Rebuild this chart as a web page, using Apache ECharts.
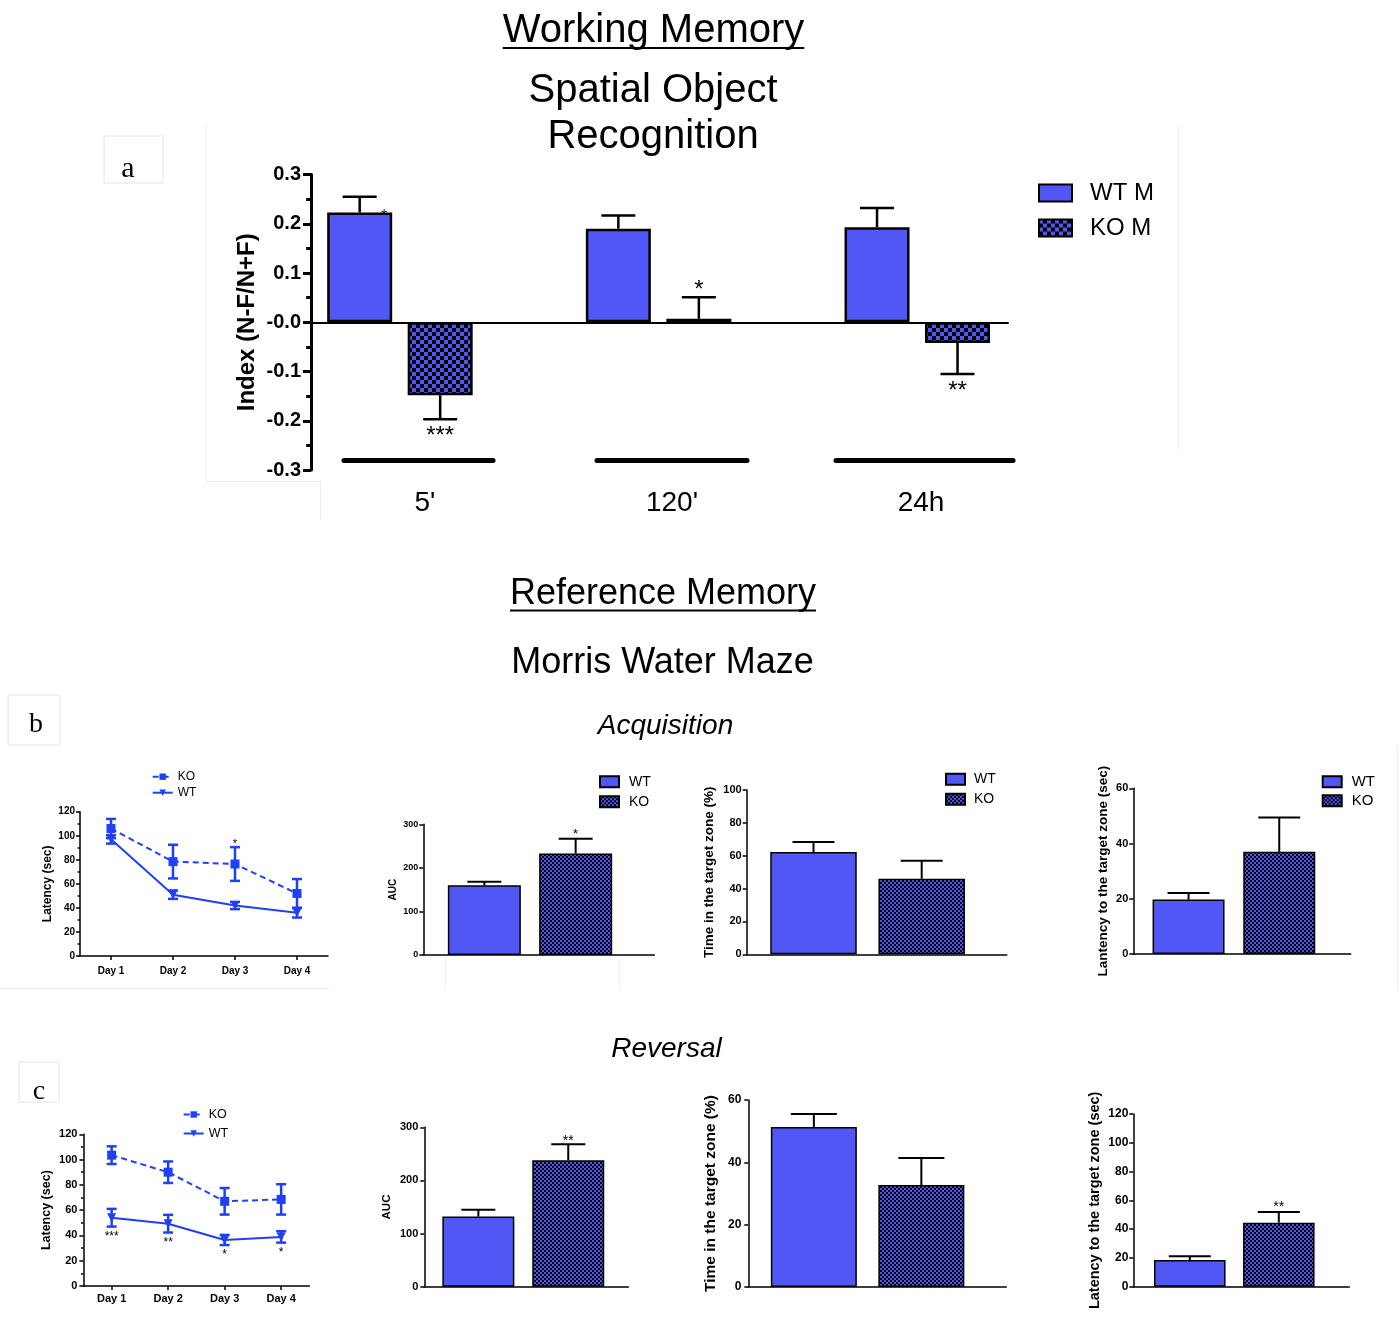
<!DOCTYPE html>
<html>
<head>
<meta charset="utf-8">
<title>Working and Reference Memory</title>
<script src="https://cdn.jsdelivr.net/npm/echarts@6.0.0/dist/echarts.min.js"></script>
<style>
html, body { margin: 0; padding: 0; background: #fff; }
#chart { width: 1399px; height: 1322px; }
</style>
</head>
<body>
<div id="chart"></div>
<script>
// ---------- Working memory: spatial object recognition ----------
const wmCategories = ["5'", "120'", "24h"];
const wmYTickLabels = ['-0.3', '-0.2', '-0.1', '-0.0', '0.1', '0.2', '0.3'];
const wmWT = [0.223, 0.19, 0.193];
const wmWTErr = [0.032, 0.027, 0.039];
const wmKO = [-0.148, 0.007, -0.042];
const wmKOErr = [0.049, 0.044, 0.063];
const wmKOStars = ['***', '*', '**'];

// ---------- Reference memory: Morris water maze ----------
const groups = ['WT', 'KO'];
const days = ['Day 1', 'Day 2', 'Day 3', 'Day 4'];

// acquisition
const acqLatencyKO = [106, 78.5, 76.5, 52];
const acqLatencyKOErr = [8, 14, 14, 12];
const acqLatencyWT = [97, 51, 42, 36];
const acqLatencyWTErr = [3.5, 3.5, 3, 4];
const acqLatencyStars = ['', '', '*', ''];
const acqAUC = [160, 233];
const acqAUCErr = [8, 34];
const acqAUCStars = ['', '*'];
const acqTime = [62.3, 46];
const acqTimeErr = [6, 11];
const acqTarget = [19.7, 37];
const acqTargetErr = [2.4, 12.4];

// reversal
const revLatencyKO = [103.5, 90, 67, 68.5];
const revLatencyKOErr = [7, 8.5, 10.5, 12];
const revLatencyWT = [54, 49.3, 36.4, 38.8];
const revLatencyWTErr = [7, 7, 4, 4.5];
const revLatencyStars = ['***', '**', '*', '*'];
const revAUC = [132, 238];
const revAUCErr = [13, 30];
const revAUCStars = ['', '**'];
const revTime = [51.3, 32.7];
const revTimeErr = [4.2, 8.7];
const revTarget = [18.5, 44.5];
const revTargetErr = [2.6, 7.4];
const revTargetStars = ['', '**'];

// ---------- styles ----------
const FONT = "'Liberation Sans', Arial, sans-serif";
const BAR_BLUE = '#5157f4';
const LINE_BLUE = '#1f40f5';

function checker(cell, fg, bg) {
  const c = document.createElement('canvas');
  c.width = c.height = cell * 2;
  const ctx = c.getContext('2d');
  ctx.fillStyle = bg;
  ctx.fillRect(0, 0, cell * 2, cell * 2);
  ctx.fillStyle = fg;
  ctx.fillRect(0, 0, cell, cell);
  ctx.fillRect(cell, cell, cell, cell);
  return c;
}
const koCoarse = { image: checker(4, BAR_BLUE, '#000'), repeat: 'repeat' };
const koFine = { image: checker(2, BAR_BLUE, '#000'), repeat: 'repeat' };

const grid = [], xAxis = [], yAxis = [], series = [], legend = [], graphic = [];

function addGrid(left, top, width, height) {
  grid.push({ left, top, width, height, containLabel: false, outerBoundsMode: 'none' });
  return grid.length - 1;
}

function valueAxis(gi, o) {
  return {
    type: 'value', gridIndex: gi, min: o.min, max: o.max, interval: o.interval,
    splitLine: { show: false },
    axisLine: { show: true, onZero: false, lineStyle: { color: '#000', width: o.lw } },
    axisTick: { show: true, length: o.tick, lineStyle: { color: '#000', width: o.lw } },
    minorTick: o.minor
      ? { show: true, splitNumber: 2, length: o.tick * 0.6, lineStyle: { color: '#000', width: o.lw } }
      : { show: false },
    axisLabel: {
      color: '#000', fontWeight: 'bold', fontSize: o.fs, fontFamily: FONT,
      margin: o.margin, formatter: o.formatter
    },
    name: o.name, nameLocation: 'middle', nameGap: o.nameGap, nameRotate: 90,
    nameTextStyle: { color: '#000', fontWeight: 'bold', fontSize: o.nameFs, fontFamily: FONT }
  };
}

// y of a text anchored so that an asterisk glyph is centred at `center`
function starY(center, fs) { return center + 0.227 * fs; }

// black T-shaped error bars on top of bars (or below, for negative bars)
function barErrors(xi, yi, values, errs, stars, o) {
  return {
    type: 'custom', xAxisIndex: xi, yAxisIndex: yi, silent: true, z: 5,
    data: values.map((v, i) => [i, v, errs[i]]),
    renderItem(params, api) {
      const i = api.value(0), v = api.value(1), e = api.value(2);
      const dir = v < 0 ? -1 : 1;
      const base = api.coord([i, v]);
      const tip = api.coord([i, v + dir * e]);
      const x = base[0] + (o.offset || 0);
      const st = { stroke: '#000', lineWidth: o.lw };
      const children = [
        { type: 'line', shape: { x1: x, y1: base[1], x2: x, y2: tip[1] }, style: st },
        { type: 'line', shape: { x1: x - o.cap / 2, y1: tip[1], x2: x + o.cap / 2, y2: tip[1] }, style: st }
      ];
      const s = stars ? stars[params.dataIndex] : '';
      if (s) {
        const c = tip[1] - dir * o.starGap;
        children.push({
          type: 'text',
          style: {
            text: s, x: x, y: starY(c, o.starFs), fill: '#000',
            font: o.starFs + 'px ' + FONT, align: 'center', verticalAlign: 'middle',
            textAlign: 'center', textVerticalAlign: 'middle'
          }
        });
      }
      return { type: 'group', children };
    }
  };
}

// blue two-sided error bars for the learning curves
function lineErrors(gi, values, errs, stars, side, o) {
  return {
    type: 'custom', xAxisIndex: gi, yAxisIndex: gi, silent: true, z: 3,
    data: values.map((v, i) => [i, v, errs[i]]),
    renderItem(params, api) {
      const i = api.value(0), v = api.value(1), e = api.value(2);
      const hi = api.coord([i, v + e]);
      const lo = api.coord([i, v - e]);
      const x = hi[0];
      const st = { stroke: LINE_BLUE, lineWidth: o.lw };
      const children = [
        { type: 'line', shape: { x1: x, y1: hi[1], x2: x, y2: lo[1] }, style: st },
        { type: 'line', shape: { x1: x - o.cap / 2, y1: hi[1], x2: x + o.cap / 2, y2: hi[1] }, style: st },
        { type: 'line', shape: { x1: x - o.cap / 2, y1: lo[1], x2: x + o.cap / 2, y2: lo[1] }, style: st }
      ];
      const s = stars ? stars[params.dataIndex] : '';
      if (s) {
        const c = side === 'above' ? hi[1] - o.starGap : lo[1] + o.starGap;
        children.push({
          type: 'text',
          style: {
            text: s, x: x, y: starY(c, o.starFs), fill: '#000',
            font: o.starFs + 'px ' + FONT, align: 'center', verticalAlign: 'middle',
            textAlign: 'center', textVerticalAlign: 'middle'
          }
        });
      }
      return { type: 'group', children };
    }
  };
}

function legendText(fs, padLeft) {
  return { color: '#000', fontSize: fs, fontFamily: FONT, padding: [0, 0, 0, padLeft] };
}

// ---------- panel a ----------
(function () {
  const top = 174.5, height = 295.5;
  const ga = addGrid(311, top, 697, height);
  xAxis.push({
    type: 'category', gridIndex: ga, data: wmCategories,
    axisLine: { show: true, onZero: true, lineStyle: { color: '#000', width: 2 } },
    axisTick: { show: false }, axisLabel: { show: false }
  });
  yAxis.push(valueAxis(ga, {
    min: -0.3, max: 0.3, interval: 0.1, lw: 3, tick: 8, minor: true,
    fs: 20, margin: 10, formatter: (v, i) => wmYTickLabels[i],
    name: 'Index (N-F/N+F)', nameGap: 52, nameFs: 24
  }));

  const gd = addGrid(270.6, top, 776, height);
  const xd = xAxis.push({ type: 'category', gridIndex: gd, data: wmCategories, show: false }) - 1;
  const yd = yAxis.push({ type: 'value', gridIndex: gd, min: -0.3, max: 0.3, show: false }) - 1;
  const barW = 65, gapPx = 15.5;
  series.push({
    type: 'bar', name: 'WT M', xAxisIndex: xd, yAxisIndex: yd, data: wmWT,
    barWidth: barW, barGap: (gapPx / barW * 100) + '%',
    itemStyle: { color: BAR_BLUE, borderColor: '#000', borderWidth: 2.5 }
  });
  series.push({
    type: 'bar', name: 'KO M', xAxisIndex: xd, yAxisIndex: yd, data: wmKO,
    barWidth: barW,
    itemStyle: { color: koCoarse, borderColor: '#000', borderWidth: 2.5 }
  });
  const off = (barW + gapPx) / 2;
  series.push(barErrors(xd, yd, wmWT, wmWTErr, null, { offset: -off, lw: 2.5, cap: 34 }));
  series.push(barErrors(xd, yd, wmKO, wmKOErr, wmKOStars, { offset: off, lw: 2.5, cap: 34, starFs: 24, starGap: 12 }));

  // time-point bars and labels under the plot
  const spans = [[344, 149, [0, 0, 0, 13]], [597, 150, [0, 0, 0, 0]], [836, 177, [0, 7, 0, 0]]];
  wmCategories.forEach((c, i) => {
    const g = addGrid(spans[i][0], 440, spans[i][1], 20);
    xAxis.push({
      type: 'category', gridIndex: g, data: [c],
      axisLine: { show: true, onZero: false, lineStyle: { color: '#000', width: 5 } },
      axisTick: { show: false },
      axisLabel: { color: '#000', fontSize: 28, fontFamily: FONT, margin: 29, padding: spans[i][2] }
    });
    yAxis.push({ type: 'value', gridIndex: g, min: 0, max: 1, show: false });
  });

  legend.push({
    data: ['WT M', 'KO M'], orient: 'vertical', left: 1038, top: 181, padding: 0,
    itemWidth: 33, itemHeight: 17, itemGap: 11, icon: 'rect', selectedMode: false,
    textStyle: legendText(24, 13)
  });
})();

// ---------- learning-curve panels ----------
function linePanel(p) {
  const g = addGrid(p.left, p.top, p.width, p.height);
  xAxis.push({
    type: 'category', gridIndex: g, data: days,
    axisLine: { show: true, onZero: false, lineStyle: { color: '#000', width: 1.5 } },
    axisTick: { show: true, alignWithLabel: true, length: 4, lineStyle: { color: '#000', width: 1.5 } },
    axisLabel: { color: '#000', fontWeight: 'bold', fontSize: p.dayFs, fontFamily: FONT, margin: p.dayMargin }
  });
  yAxis.push(valueAxis(g, {
    min: 0, max: 120, interval: 20, lw: 1.5, tick: 4, minor: true,
    fs: p.fs, margin: p.margin, name: 'Latency (sec)', nameGap: p.nameGap, nameFs: p.nameFs
  }));
  const koName = 'KO|' + p.tag, wtName = 'WT|' + p.tag;
  series.push({
    type: 'line', name: koName, xAxisIndex: g, yAxisIndex: g, data: p.ko, z: 4,
    symbol: 'rect', symbolSize: 9, color: LINE_BLUE,
    itemStyle: { color: LINE_BLUE },
    lineStyle: { color: LINE_BLUE, width: 2, type: [6, 4] }
  });
  series.push({
    type: 'line', name: wtName, xAxisIndex: g, yAxisIndex: g, data: p.wt, z: 4,
    symbol: 'triangle', symbolRotate: 180, symbolSize: 9, color: LINE_BLUE,
    itemStyle: { color: LINE_BLUE },
    lineStyle: { color: LINE_BLUE, width: 2 }
  });
  series.push(lineErrors(g, p.ko, p.koErr, p.koStars, 'above', { lw: 2.5, cap: 10, starFs: p.starFs, starGap: p.starGap }));
  series.push(lineErrors(g, p.wt, p.wtErr, p.wtStars, 'below', { lw: 2.5, cap: 10, starFs: p.starFs, starGap: p.starGap }));
  legend.push({
    data: [koName, wtName], formatter: n => n.split('|')[0],
    orient: 'vertical', left: p.legend[0], top: p.legend[1], padding: 0,
    itemWidth: 20, itemHeight: 8, itemGap: p.legend[2], selectedMode: false,
    textStyle: legendText(p.legend[3], 0)
  });
}

// ---------- single-measure bar panels ----------
function barPanel(p) {
  const [al, at, aw, ah] = p.axis;
  const ga = addGrid(al, at, aw, ah);
  xAxis.push({
    type: 'category', gridIndex: ga, data: groups,
    axisLine: { show: true, onZero: false, lineStyle: { color: '#000', width: 1.5 } },
    axisTick: { show: false }, axisLabel: { show: false }
  });
  yAxis.push(valueAxis(ga, {
    min: 0, max: p.max, interval: p.interval, lw: 1.5, tick: 4, minor: false,
    fs: p.fs, margin: p.margin, name: p.name, nameGap: p.nameGap, nameFs: p.nameFs
  }));
  const gd = addGrid(p.data[0], at, p.data[1], ah);
  const xd = xAxis.push({ type: 'category', gridIndex: gd, data: groups, show: false }) - 1;
  const yd = yAxis.push({ type: 'value', gridIndex: gd, min: 0, max: p.max, show: false }) - 1;
  const wtName = 'WT|' + p.tag, koName = 'KO|' + p.tag;
  series.push({
    type: 'bar', name: wtName, xAxisIndex: xd, yAxisIndex: yd,
    data: groups.map((g, i) => (g === 'WT' ? p.values[i] : '-')),
    barWidth: p.barWidth, barGap: '-100%',
    itemStyle: { color: BAR_BLUE, borderColor: '#000', borderWidth: 1.5 }
  });
  series.push({
    type: 'bar', name: koName, xAxisIndex: xd, yAxisIndex: yd,
    data: groups.map((g, i) => (g === 'KO' ? p.values[i] : '-')),
    barWidth: p.barWidth, barGap: '-100%',
    itemStyle: { color: koFine, borderColor: '#000', borderWidth: 1.5 }
  });
  series.push(barErrors(xd, yd, p.values, p.errs, p.stars, { lw: 2, cap: p.cap, starFs: p.starFs || 14, starGap: p.starGap || 7 }));
  if (p.legend) {
    legend.push({
      data: [wtName, koName], formatter: n => n.split('|')[0],
      orient: 'vertical', left: p.legend[0], top: p.legend[1], padding: 0,
      itemWidth: 19, itemHeight: 11, itemGap: p.legend[2], icon: 'rect', selectedMode: false,
      textStyle: legendText(p.legend[3], p.legend[4])
    });
  }
}

// ---- acquisition row ----
linePanel({
  tag: 'acq', left: 80, top: 811.7, width: 248, height: 144.3,
  ko: acqLatencyKO, koErr: acqLatencyKOErr, koStars: acqLatencyStars,
  wt: acqLatencyWT, wtErr: acqLatencyWTErr, wtStars: null,
  fs: 10, margin: 5, nameGap: 26, nameFs: 12, dayFs: 10, dayMargin: 10,
  starFs: 11, starGap: 6, legend: [151.7, 770.7, 4, 12]
});
barPanel({
  tag: 'acqAUC', axis: [423.3, 824.3, 231, 130.7], data: [438.7, 182.6], barWidth: 73,
  max: 300, interval: 100, values: acqAUC, errs: acqAUCErr, stars: acqAUCStars,
  fs: 9, margin: 5, name: 'AUC', nameGap: 25, nameFs: 10, cap: 34, starFs: 13, starGap: 7,
  legend: [599, 774.7, 6, 14, 5]
});
barPanel({
  tag: 'acqTime', axis: [746.7, 790, 260, 164.3], data: [759.4, 216.4], barWidth: 86.5,
  max: 100, interval: 20, values: acqTime, errs: acqTimeErr, stars: null,
  fs: 11, margin: 5, name: 'Time in the target zone (%)', nameGap: 30, nameFs: 13.5, cap: 42,
  legend: [945, 772.3, 6, 14, 4]
});
barPanel({
  tag: 'acqTarget', axis: [1133.3, 788.3, 217.4, 165.7], data: [1143.2, 181.4], barWidth: 72,
  max: 60, interval: 20, values: acqTarget, errs: acqTargetErr, stars: null,
  fs: 11, margin: 5, name: 'Lantency to the target zone (sec)', nameGap: 23, nameFs: 13.5, cap: 42,
  legend: [1321.7, 774.2, 4, 15, 5]
});

// ---- reversal row ----
linePanel({
  tag: 'rev', left: 83.4, top: 1134.3, width: 226, height: 151.7,
  ko: revLatencyKO, koErr: revLatencyKOErr, koStars: null,
  wt: revLatencyWT, wtErr: revLatencyWTErr, wtStars: revLatencyStars,
  fs: 11, margin: 6, nameGap: 30, nameFs: 12.5, dayFs: 11, dayMargin: 7,
  starFs: 12, starGap: 7, legend: [182.7, 1108, 6, 12.5]
});
barPanel({
  tag: 'revAUC', axis: [424.3, 1127.3, 204, 159.4], data: [433.4, 179.8], barWidth: 72,
  max: 300, interval: 100, values: revAUC, errs: revAUCErr, stars: revAUCStars,
  fs: 11, margin: 6, name: 'AUC', nameGap: 31, nameFs: 11.5, cap: 34, starFs: 14, starGap: 6
});
barPanel({
  tag: 'revTime', axis: [748.3, 1100, 258, 187], data: [760.1, 215], barWidth: 86,
  max: 60, interval: 20, values: revTime, errs: revTimeErr, stars: null,
  fs: 12, margin: 7, name: 'Time in the target zone (%)', nameGap: 30, nameFs: 15.5, cap: 46
});
barPanel({
  tag: 'revTarget', axis: [1133.3, 1114, 216, 172.7], data: [1145.3, 178], barWidth: 71.5,
  max: 120, interval: 20, values: revTarget, errs: revTargetErr, stars: revTargetStars,
  fs: 12, margin: 5, name: 'Latency to the target zone (sec)', nameGap: 31, nameFs: 14.5, cap: 42, starFs: 14, starGap: 8
});

// ---------- headings, panel letters ----------
function addText(text, x, y, font, extra) {
  graphic.push({
    type: 'text', silent: true,
    style: Object.assign({
      text, x, y, fill: '#000', font,
      align: 'center', verticalAlign: 'middle', textAlign: 'center', textVerticalAlign: 'middle'
    }, extra || {})
  });
}
function underline(text, cx, y, font, lw) {
  const ctx = document.createElement('canvas').getContext('2d');
  ctx.font = font;
  const w = ctx.measureText(text).width;
  graphic.push({
    type: 'line', silent: true,
    shape: { x1: cx - w / 2, y1: y, x2: cx + w / 2, y2: y },
    style: { stroke: '#000', lineWidth: lw }
  });
}
function faintBox(x, y, w, h) {
  graphic.push({
    type: 'rect', silent: true, shape: { x, y, width: w, height: h },
    style: { fill: 'none', stroke: '#e4e4e4', lineWidth: 1 }
  });
}
function faintLine(x1, y1, x2, y2) {
  graphic.push({
    type: 'line', silent: true, shape: { x1, y1, x2, y2 },
    style: { stroke: '#efefef', lineWidth: 1 }
  });
}

const H1 = '40px ' + FONT;
const H2 = '36px ' + FONT;
const H3 = 'italic 28px ' + FONT;
addText('Working Memory', 653.5, 30.5, H1);
underline('Working Memory', 653.5, 48, H1, 2);
addText('Spatial Object', 653, 90.5, H1);
addText('Recognition', 653, 137, H1);
addText('Reference Memory', 663, 594, H2);
underline('Reference Memory', 663, 610.5, H2, 2);
addText('Morris Water Maze', 662.5, 663, H2);
addText('Acquisition', 665.5, 726, H3);
addText('Reversal', 666.5, 1049, H3);

const SERIF = "'Liberation Serif', 'DejaVu Serif', serif";
faintBox(104, 136, 59, 47);
addText('a', 128, 169, '30px ' + SERIF);
faintBox(8, 695, 52, 50);
addText('b', 36, 725, '28px ' + SERIF);
faintBox(19, 1062, 40, 40);
addText('c', 39, 1091.5, '28px ' + SERIF);

// mark sitting on the corner of the first WT bar
addText('*', 384, 217, '16px ' + FONT, { fill: '#333' });

// faint frame edges of the panels
faintLine(206, 123, 206, 482);
faintLine(206, 481.5, 320, 481.5);
faintLine(320.5, 481, 320.5, 520);
faintLine(1178.5, 125, 1178.5, 450);
faintLine(0, 988.5, 330, 988.5);
faintLine(1397.5, 745, 1397.5, 990);
faintLine(445.5, 958, 445.5, 990);
faintLine(619.5, 958, 619.5, 990);

const chart = echarts.init(document.getElementById('chart'), null, { renderer: 'canvas', width: 1399, height: 1322 });
chart.setOption({
  animation: false,
  backgroundColor: '#fff',
  textStyle: { fontFamily: FONT },
  grid, xAxis, yAxis, series, legend, graphic
});
</script>
</body>
</html>
